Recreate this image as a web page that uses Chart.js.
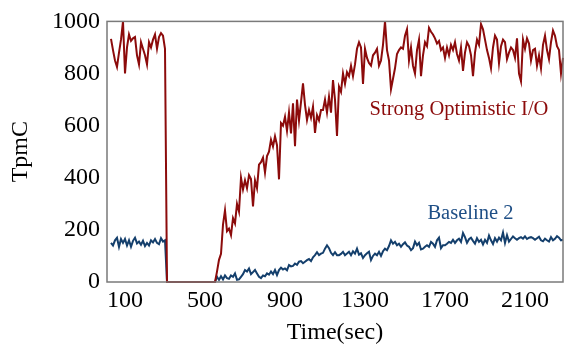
<!DOCTYPE html>
<html>
<head>
<meta charset="utf-8">
<script src="https://cdn.jsdelivr.net/npm/chart.js@4.4.1/dist/chart.umd.min.js"></script>
<style>
  html, body { margin: 0; padding: 0; background: #fff; }
</style>
</head>
<body>
<canvas id="chart" width="564" height="347"></canvas>
<script>
// sampling grid of the run (seconds)
const firstSec = 30;
const stepSec = 10;
const xTicks = [100, 500, 900, 1300, 1700, 2100];

const optimisticTpmC = [
  933, 890, 850, 825, 880, 930, 1000, 800, 900, 950,
  925, 935, 940, 870, 835, 920, 895, 870, 835, 920,
  900, 930, 950, 895, 940, 955, 945, 895,
  0, 0, 0, 0, 0, 0, 0, 0, 0, 0, 0, 0, 0, 0, 0, 0, 0, 0, 0, 0, 0, 0, 0, 0, 0,
  40, 85, 108, 220, 275, 195, 205, 180, 245, 225,
  300, 270, 400, 355, 390, 360, 410, 395, 290, 390,
  360, 450,
  460, 477, 420, 483, 500, 546, 520, 559, 525, 394,
  610, 600, 634, 580, 650, 570, 686, 521, 700, 620,
  690, 762, 680, 622, 660, 630, 673, 572, 640, 620,
  660, 660, 700, 650, 711, 650, 775, 700, 560, 750,
  730, 800, 760, 805, 790, 830, 790, 835, 895,
  920, 900, 760, 895, 860, 840, 830, 870, 880, 895,
  830, 850, 910, 1000, 890, 850, 740, 780, 820, 875,
  890, 900, 895, 945, 970, 850, 900, 830, 800, 890,
  930, 790, 870, 920, 905, 975, 960, 950, 935, 915,
  925, 890, 900, 860, 900, 870, 910, 890, 920, 875,
  850, 900, 810, 880, 920, 905, 870, 790, 880, 930,
  910, 990, 970, 930, 890, 860, 820, 900, 945, 930,
  840, 905, 930, 920, 855, 880, 900, 890, 860, 935,
  800, 770, 930, 895, 935, 915, 850, 890, 895, 830,
  870, 820, 910, 945, 890, 855, 920, 965, 945, 905,
  890, 800, 860
];

const baselineTpmC = [
  150, 140, 160, 170, 135, 165, 150, 165, 140, 160,
  135, 158, 170, 148, 155, 143, 158, 138, 150, 140,
  160, 152, 165, 150, 145, 168, 155, 160,
  0, 0, 0, 0, 0, 0, 0, 0, 0, 0, 0, 0, 0, 0, 0, 0, 0, 0, 0, 0, 0, 0, 0, 0, 0,
  20, 8, 22, 10, 25, 15, 12, 25, 20, 33,
  8, 10, 20, 30, 46, 40, 52, 30, 38, 46,
  33, 20, 15, 25, 22, 33, 28, 40, 30, 46,
  27, 46, 55, 48, 52, 45, 65, 60, 62, 71,
  66, 78, 80, 72, 78, 84, 88, 80, 95, 103,
  114, 103, 109, 112, 128, 141, 130, 112, 103, 114,
  103, 103, 108, 116, 103, 109, 116, 103, 118, 109,
  128, 105, 110, 92, 103, 110, 116, 84, 100, 109,
  103, 116, 100, 118, 128, 122, 138, 160, 147, 154,
  141, 147, 135, 145, 152, 140, 135, 122, 130, 155,
  141, 150, 125, 128, 135, 141, 135, 154, 147, 135,
  160, 170, 130, 141, 141, 147, 154, 150, 162, 150,
  160, 166, 154, 188, 172, 150, 164, 170, 158, 147,
  168, 154, 162, 144, 162, 150, 178, 160, 146, 168,
  155, 170, 160, 190, 150, 180, 155, 165, 175, 168,
  162, 168, 172, 166, 175, 165, 170, 172, 168, 162,
  168, 174, 160, 156, 166, 160, 155, 172, 160, 166,
  176, 170, 160, 162
];

const toPoints = vals => vals.map((v, i) => ({ x: firstSec + i * stepSec, y: v }));

const serif = "'Liberation Serif', 'Times New Roman', serif";

// gray box round the plot area
const frame = {
  id: 'frame',
  afterDatasetsDraw(chart) {
    const { ctx, chartArea: a } = chart;
    ctx.save();
    ctx.strokeStyle = '#7a7a7a';
    ctx.lineWidth = 1.5;
    ctx.strokeRect(a.left, a.top, a.right - a.left, a.bottom - a.top);
    ctx.restore();
  }
};

// in-plot series names
const seriesNotes = {
  id: 'seriesNotes',
  afterDraw(chart, args, opts) {
    const { ctx, scales } = chart;
    ctx.save();
    ctx.font = opts.font;
    ctx.textAlign = 'center';
    ctx.textBaseline = 'alphabetic';
    opts.items.forEach(n => {
      ctx.fillStyle = n.color;
      ctx.fillText(n.text, scales.x.getPixelForValue(n.x), scales.y.getPixelForValue(n.y));
    });
    ctx.restore();
  }
};

const plain = v => String(v);

new Chart(document.getElementById('chart'), {
  type: 'line',
  data: {
    datasets: [
      {
        label: 'Strong Optimistic I/O',
        data: toPoints(optimisticTpmC),
        borderColor: '#8c0b0b',
        borderWidth: 2,
        pointRadius: 0,
        tension: 0,
        clip: 2
      },
      {
        label: 'Baseline 2',
        data: toPoints(baselineTpmC),
        borderColor: '#143f6c',
        borderWidth: 2,
        pointRadius: 0,
        tension: 0,
        clip: 2
      }
    ]
  },
  options: {
    responsive: false,
    animation: false,
    devicePixelRatio: 1,
    layout: { padding: { top: 19, right: 1, left: 0, bottom: 0 } },
    plugins: {
      legend: { display: false },
      tooltip: { enabled: false },
      seriesNotes: {
        font: '20.5px ' + serif,
        items: [
          { text: 'Strong Optimistic I/O', x: 1770, y: 642, color: '#8c0b0b' },
          { text: 'Baseline 2', x: 1827, y: 243, color: '#1f4f86' }
        ]
      }
    },
    scales: {
      x: {
        type: 'linear',
        min: 10,
        max: 2290,
        grid: { display: false, drawTicks: false },
        border: { display: false },
        afterBuildTicks: s => { s.ticks = xTicks.map(v => ({ value: v })); },
        afterFit: s => { s.height = 65; },
        ticks: {
          autoSkip: false,
          maxRotation: 0,
          padding: 4,
          color: '#000',
          callback: plain,
          font: { family: serif, size: 24 }
        },
        title: {
          display: true,
          text: 'Time(sec)',
          color: '#000',
          font: { family: serif, size: 24 },
          padding: { top: 0, bottom: 0 }
        }
      },
      y: {
        min: 0,
        max: 1000,
        grid: { display: false, drawTicks: false },
        border: { display: false },
        afterFit: s => { s.width = 107; },
        ticks: {
          stepSize: 200,
          padding: 7,
          color: '#000',
          callback: plain,
          font: { family: serif, size: 24 }
        },
        title: {
          display: true,
          text: 'TpmC',
          color: '#000',
          font: { family: serif, size: 24 },
          padding: { top: 6, bottom: 0 }
        }
      }
    }
  },
  plugins: [frame, seriesNotes]
});
</script>
</body>
</html>
